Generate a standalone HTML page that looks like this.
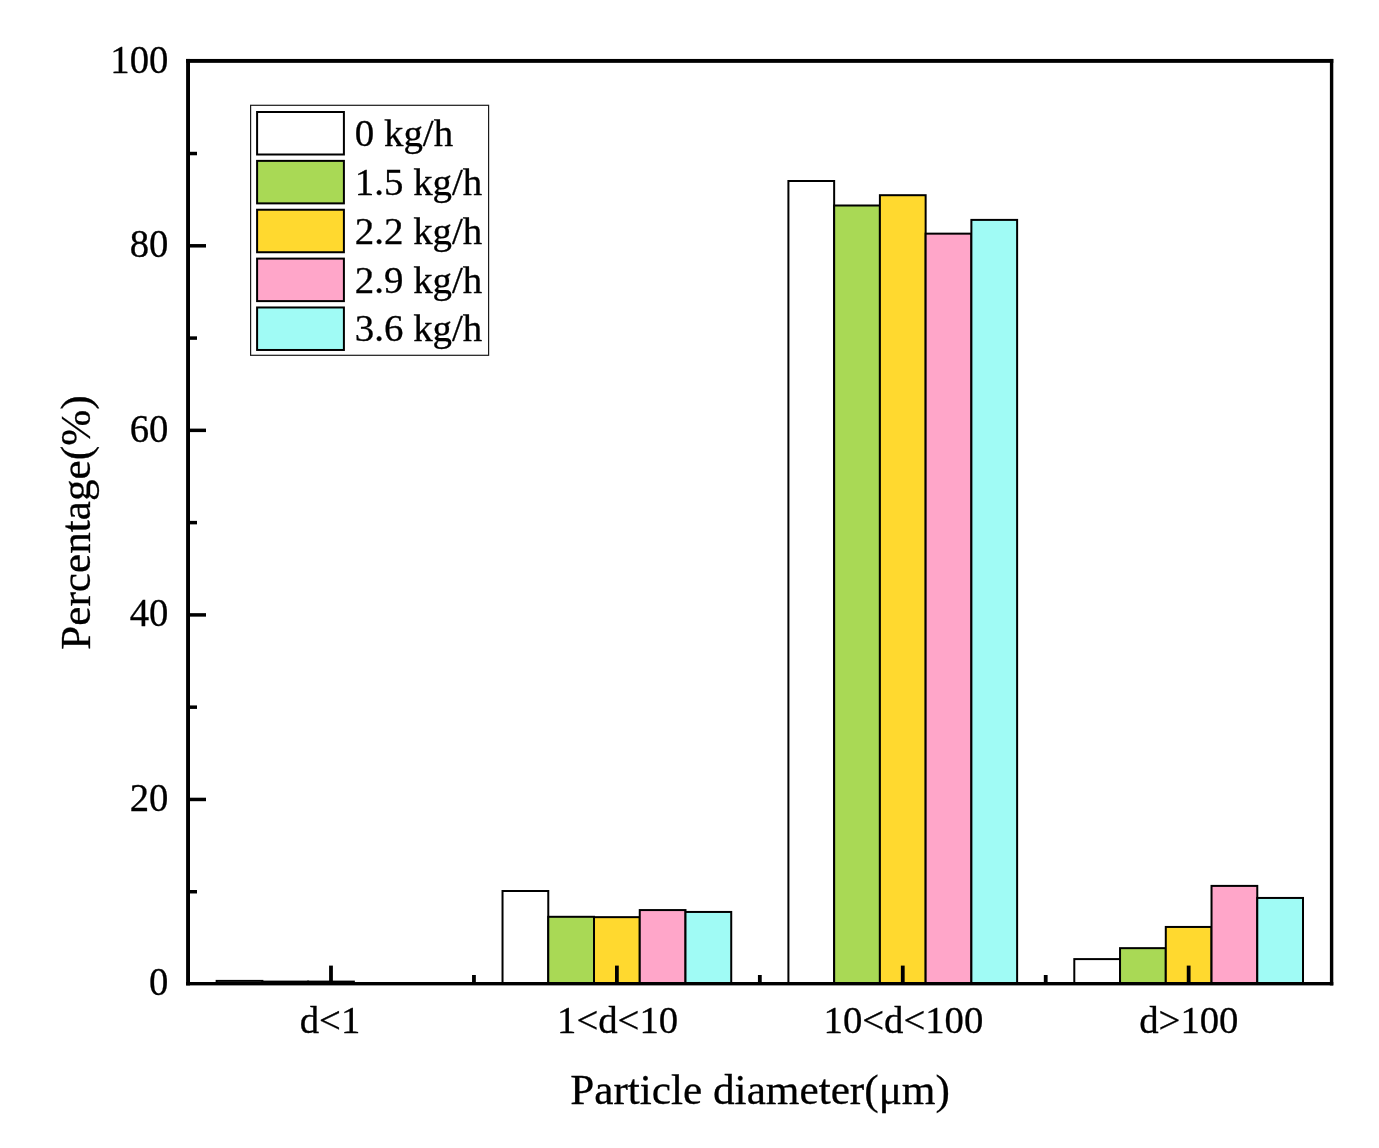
<!DOCTYPE html>
<html lang="en"><head><meta charset="utf-8"><title>Particle diameter distribution</title>
<style>html,body{margin:0;padding:0;background:#fff}body{width:1379px;height:1148px;overflow:hidden}</style></head>
<body>
<svg width="1379" height="1148" viewBox="0 0 1379 1148" style="display:block">
<rect width="1379" height="1148" fill="#fff"/>
<g stroke="#000" stroke-width="2" stroke-linejoin="miter">
<rect x="216.64" y="980.90" width="45.74" height="2.80" fill="#FFFFFF"/>
<rect x="262.38" y="981.60" width="45.74" height="2.10" fill="#A9D955"/>
<rect x="308.12" y="981.60" width="45.74" height="2.10" fill="#FFD92F"/>
<rect x="502.53" y="891.00" width="45.74" height="92.70" fill="#FFFFFF"/>
<rect x="548.27" y="916.80" width="45.74" height="66.90" fill="#A9D955"/>
<rect x="594.01" y="917.15" width="45.74" height="66.55" fill="#FFD92F"/>
<rect x="639.75" y="910.07" width="45.74" height="73.63" fill="#FFA6C9"/>
<rect x="685.49" y="911.95" width="45.74" height="71.75" fill="#A0FBF5"/>
<rect x="788.41" y="181.00" width="45.74" height="802.70" fill="#FFFFFF"/>
<rect x="834.16" y="205.50" width="45.74" height="778.20" fill="#A9D955"/>
<rect x="879.90" y="195.20" width="45.74" height="788.50" fill="#FFD92F"/>
<rect x="925.64" y="233.65" width="45.74" height="750.05" fill="#FFA6C9"/>
<rect x="971.38" y="219.90" width="45.74" height="763.80" fill="#A0FBF5"/>
<rect x="1074.30" y="959.10" width="45.74" height="24.60" fill="#FFFFFF"/>
<rect x="1120.04" y="948.15" width="45.74" height="35.55" fill="#A9D955"/>
<rect x="1165.79" y="926.95" width="45.74" height="56.75" fill="#FFD92F"/>
<rect x="1211.53" y="885.90" width="45.74" height="97.80" fill="#FFA6C9"/>
<rect x="1257.27" y="897.95" width="45.74" height="85.75" fill="#A0FBF5"/>
</g>
<g stroke="#000" stroke-width="3.5" fill="none">
<line x1="188.05" y1="891.73" x2="197.0" y2="891.73"/>
<line x1="188.05" y1="799.45" x2="206.0" y2="799.45"/>
<line x1="188.05" y1="707.17" x2="197.0" y2="707.17"/>
<line x1="188.05" y1="614.90" x2="206.0" y2="614.90"/>
<line x1="188.05" y1="522.62" x2="197.0" y2="522.62"/>
<line x1="188.05" y1="430.35" x2="206.0" y2="430.35"/>
<line x1="188.05" y1="338.08" x2="197.0" y2="338.08"/>
<line x1="188.05" y1="245.80" x2="206.0" y2="245.80"/>
<line x1="188.05" y1="153.53" x2="197.0" y2="153.53"/>
</g>
<g stroke="#000" stroke-width="3.8" fill="none">
<line x1="330.99" y1="983.7" x2="330.99" y2="965.6"/>
<line x1="616.88" y1="983.7" x2="616.88" y2="965.6"/>
<line x1="902.77" y1="983.7" x2="902.77" y2="965.6"/>
<line x1="1188.66" y1="983.7" x2="1188.66" y2="965.6"/>
<line x1="473.94" y1="983.7" x2="473.94" y2="975.0"/>
<line x1="759.83" y1="983.7" x2="759.83" y2="975.0"/>
<line x1="1045.71" y1="983.7" x2="1045.71" y2="975.0"/>
</g>
<g fill="#000">
<rect x="186.1" y="58.95" width="3.90" height="926.45"/>
<rect x="1329.9" y="58.95" width="3.40" height="926.45"/>
<rect x="186.1" y="58.95" width="1147.20" height="3.90"/>
<rect x="186.1" y="982.0" width="1147.20" height="3.40"/>
</g>
<g font-family="'Liberation Serif', 'Times New Roman', serif" font-size="38.7" fill="#000" stroke="#000" stroke-width="0.3">
<text transform="translate(168.4 995.30) scale(1 1.03)" text-anchor="end">0</text>
<text transform="translate(168.4 810.75) scale(1 1.03)" text-anchor="end">20</text>
<text transform="translate(168.4 626.20) scale(1 1.03)" text-anchor="end">40</text>
<text transform="translate(168.4 441.65) scale(1 1.03)" text-anchor="end">60</text>
<text transform="translate(168.4 257.10) scale(1 1.03)" text-anchor="end">80</text>
<text transform="translate(168.4 72.55) scale(1 1.03)" text-anchor="end">100</text>
<text x="329.99" y="1033.0" text-anchor="middle">d&lt;1</text>
<text x="617.58" y="1033.0" text-anchor="middle">1&lt;d&lt;10</text>
<text x="903.47" y="1033.0" text-anchor="middle">10&lt;d&lt;100</text>
<text x="1188.86" y="1033.0" text-anchor="middle">d&gt;100</text>
</g>
<g font-family="'Liberation Serif', 'Times New Roman', serif" font-size="43.25" fill="#000" stroke="#000" stroke-width="0.3">
<text transform="translate(760 1103.75) scale(1 0.962)" text-anchor="middle">Particle diameter(μm)</text>
<text transform="translate(90.0 522.6) rotate(-90) scale(1 0.97)" text-anchor="middle">Percentage(%)</text>
</g>
<rect x="250.6" y="105.3" width="238.0" height="250.0" fill="#fff" stroke="#1a1a1a" stroke-width="1.2"/>
<g font-family="'Liberation Serif', 'Times New Roman', serif" font-size="38.9" fill="#000" stroke-width="0.3">
<rect x="257.1" y="112.00" width="86.8" height="42.5" fill="#FFFFFF" stroke="#000" stroke-width="2"/>
<text x="354.8" y="146.00" stroke="#000">0 kg/h</text>
<rect x="257.1" y="160.87" width="86.8" height="42.5" fill="#A9D955" stroke="#000" stroke-width="2"/>
<text x="354.8" y="194.87" stroke="#000">1.5 kg/h</text>
<rect x="257.1" y="209.74" width="86.8" height="42.5" fill="#FFD92F" stroke="#000" stroke-width="2"/>
<text x="354.8" y="243.74" stroke="#000">2.2 kg/h</text>
<rect x="257.1" y="258.61" width="86.8" height="42.5" fill="#FFA6C9" stroke="#000" stroke-width="2"/>
<text x="354.8" y="292.61" stroke="#000">2.9 kg/h</text>
<rect x="257.1" y="307.48" width="86.8" height="42.5" fill="#A0FBF5" stroke="#000" stroke-width="2"/>
<text x="354.8" y="341.48" stroke="#000">3.6 kg/h</text>
</g>
</svg>
</body></html>
